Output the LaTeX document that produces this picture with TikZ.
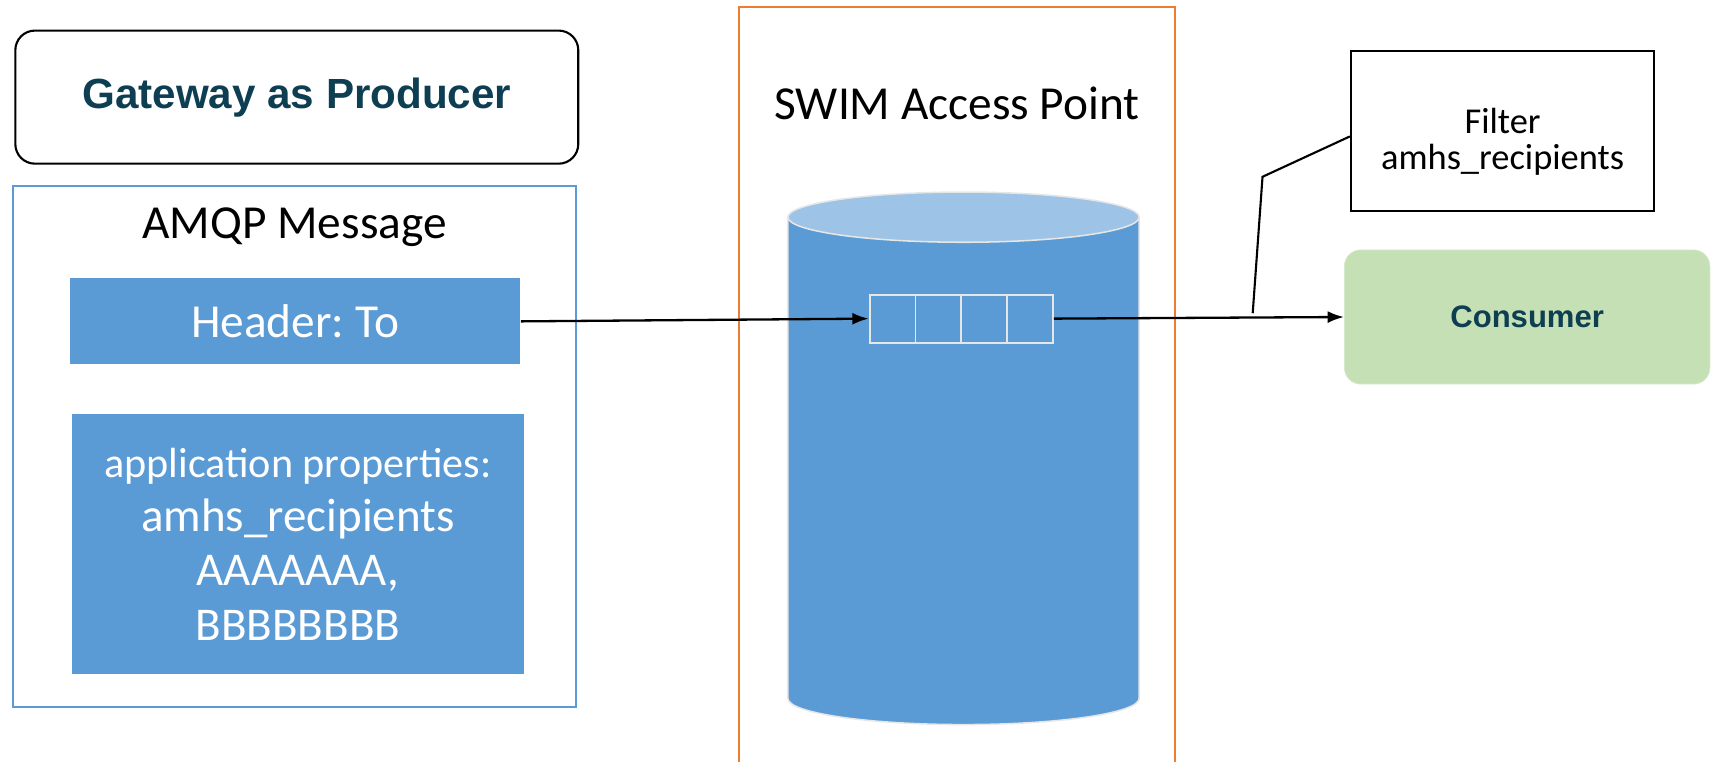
\documentclass[tikz,border=0pt]{standalone}
\usepackage{fontspec}
\setmainfont{Carlito}
\newfontfamily\arialfont{Liberation Sans}
\usetikzlibrary{arrows.meta}
\definecolor{msgblue}{RGB}{91,155,213}
\definecolor{toplight}{RGB}{157,195,230}
\definecolor{apborder}{RGB}{237,125,49}
\definecolor{tealtext}{RGB}{13,62,82}
\definecolor{consgreen}{RGB}{197,224,180}
\definecolor{cellline}{RGB}{231,230,230}
\frenchspacing
\begin{document}
\begin{tikzpicture} [x=0.02cm, y=-0.02cm,
  title/.style={font=\fontsize{24.7}{28}\selectfont},
  bluebox/.style={fill=msgblue, text=white, inner sep=0pt},
  cell/.style={draw=cellline, line width=1pt, minimum width=0.84cm, minimum height=0.88cm, inner sep=0pt},
  flow/.style={-{Latex[length=0.3cm, width=0.22cm]}, line width=1.2pt}]
 \useasboundingbox (0,0) rectangle (1568,698);

 % producer side
 \node (gateway) at (272,89) [draw, line width=1.1pt, rounded corners=0.36cm,
   minimum width=10.32cm, minimum height=2.44cm,
   font=\arialfont\bfseries\fontsize{22}{26}\selectfont, text=tealtext]{Gateway as Producer};
 \node (amqp) at (270,409) [draw=msgblue, line width=1pt, minimum width=10.32cm, minimum height=9.56cm]{};
 \node (amqptitle) at (270,208) [title]{AMQP Message};
 \node (header) at (270.5,294.5) [bluebox, title, minimum width=8.26cm, minimum height=1.58cm]{Header: To};
 \node (props) at (273,498.5) [bluebox, minimum width=8.28cm, minimum height=4.78cm, align=center,
   font=\fontsize{24.5}{28.3}\selectfont]
   {{\fontsize{22}{28.3}\selectfont application properties:}\\amhs\_recipients\\AAAAAAA,\\BBBBBBBB};

 % access point with its queue
 \draw[apborder, line width=1.1pt] (677,712)--(677,6)--(1077,6)--(1077,712);
 \node (swim) at (877,95) [title]{SWIM Access Point};
 \filldraw[fill=msgblue, draw=cellline, line width=0.8pt]
   (722,199)--(722,640) arc[start angle=180, end angle=360, x radius=3.22cm, y radius=0.48cm]--(1044,199)--cycle;
 \filldraw[fill=toplight, draw=cellline, line width=0.8pt] (883,199) ellipse [x radius=3.22cm, y radius=0.46cm];
 \foreach \i in {1,2,3,4}
 {
   \node (q\i) at (776+\i*42,292) [cell]{};
 }

 % consumer side
 \node (filter) at (1377,120) [draw, line width=1.1pt, minimum width=5.56cm, minimum height=2.92cm,
   align=center, font=\fontsize{19}{18.7}\selectfont]{\rule{0pt}{0.85cm}Filter\\amhs\_recipients};
 \node (consumer) at (1399.5,290.5) [fill=consgreen, draw=consgreen!70!white, rounded corners=0.3cm,
   minimum width=6.7cm, minimum height=2.46cm,
   font=\arialfont\bfseries\fontsize{16.2}{19}\selectfont, text=tealtext]{Consumer};

 \draw[flow] (header.east) -- (q1.west);
 \draw[flow] (q4.east) -- (consumer.west);

 \coordinate (bend) at (1157,162);
 \coordinate (tip) at (1148,287);
 \draw[line width=1.1pt] ([yshift=-0.1cm]filter.west) -- (bend) -- (tip);
\end{tikzpicture}
\end{document}
